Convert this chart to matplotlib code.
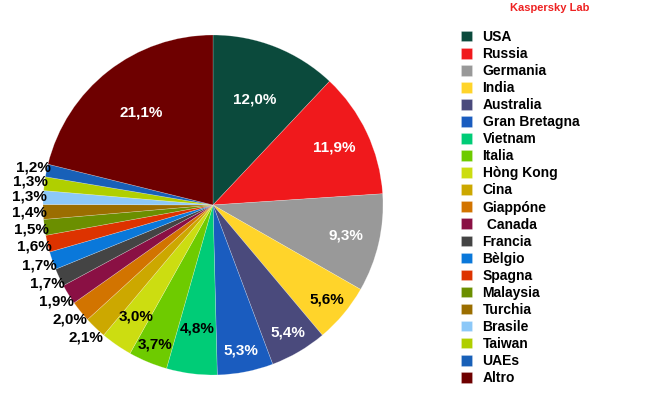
import matplotlib
matplotlib.use("Agg")
import matplotlib.pyplot as plt
import numpy as np

countries = ["USA", "Russia", "Germania", "India", "Australia", "Gran Bretagna",
             "Vietnam", "Italia", "Hòng Kong", "Cina", "Giappóne", " Canada",
             "Francia", "Bèlgio", "Spagna", "Malaysia", "Turchia", "Brasile",
             "Taiwan", "UAEs", "Altro"]
values = [12.0, 11.9, 9.3, 5.6, 5.4, 5.3, 4.8, 3.7, 3.0, 2.1, 2.0, 1.9,
          1.7, 1.7, 1.6, 1.5, 1.4, 1.3, 1.3, 1.2, 21.1]
labels = ["12,0%", "11,9%", "9,3%", "5,6%", "5,4%", "5,3%", "4,8%", "3,7%",
          "3,0%", "2,1%", "2,0%", "1,9%", "1,7%", "1,7%", "1,6%", "1,5%",
          "1,4%", "1,3%", "1,3%", "1,2%", "21,1%"]
colors = ["#0b4a3c", "#f0191c", "#999999", "#ffd42a", "#4a4a7c", "#1a5cbf",
          "#00cc77", "#6ecb00", "#ccdd11", "#cca800", "#d27400", "#8a1044",
          "#444444", "#0a78da", "#dd3300", "#6b8f00", "#9b6e00", "#8cc8f8",
          "#b0cf00", "#1860b8", "#6e0000"]
# styling: label radius (fraction of pie radius) and text colour
label_r = [0.67, 0.79, 0.80, 0.87, 0.87, 0.87, 0.73, 0.89, 0.80,
           1.08, 1.08, 1.08, 1.08, 1.08, 1.08, 1.08, 1.08, 1.08, 1.08, 1.08, 0.69]
label_c = ["white", "white", "white", "black", "white", "white", "black", "black",
           "black"] + ["black"] * 11 + ["white"]

plt.rcParams['font.family'] = ['Liberation Sans', 'DejaVu Sans']

fig = plt.figure(figsize=(6.5, 4.0), dpi=100)
cx, cy, r = 213, 205, 170
ax = fig.add_axes([(cx - r) / 650, (400 - cy - r) / 400, 2 * r / 650, 2 * r / 400])
wedges, _ = ax.pie(values, colors=colors, startangle=90, counterclock=False,
                   radius=1.0, wedgeprops=dict(edgecolor=(1, 1, 1, 0.35), linewidth=0.4))
ax.set_xlim(-1, 1)
ax.set_ylim(-1, 1)
ax.set_aspect('equal')
ax.axis('off')

for w, lab, rr, c in zip(wedges, labels, label_r, label_c):
    ang = np.deg2rad((w.theta1 + w.theta2) / 2)
    x, y = rr * np.cos(ang), rr * np.sin(ang)
    ax.text(x, y, lab, ha='center', va='center', fontsize=11, fontweight='bold',
            color=c)

leg = fig.legend(wedges, countries, loc='upper left',
                 bbox_to_anchor=(461 / 650, 1 - 30 / 400), frameon=False,
                 prop=dict(size=10, weight='bold'), labelspacing=0.22,
                 handlelength=0.8, handleheight=0.8, handletextpad=0.75,
                 borderaxespad=0, borderpad=0)

fig.text(550 / 650, 1 - 8 / 400, "Kaspersky Lab", ha='center', va='center',
         color='#ee2222', fontsize=8, fontweight='bold')

fig.savefig("out.png", dpi=100)
